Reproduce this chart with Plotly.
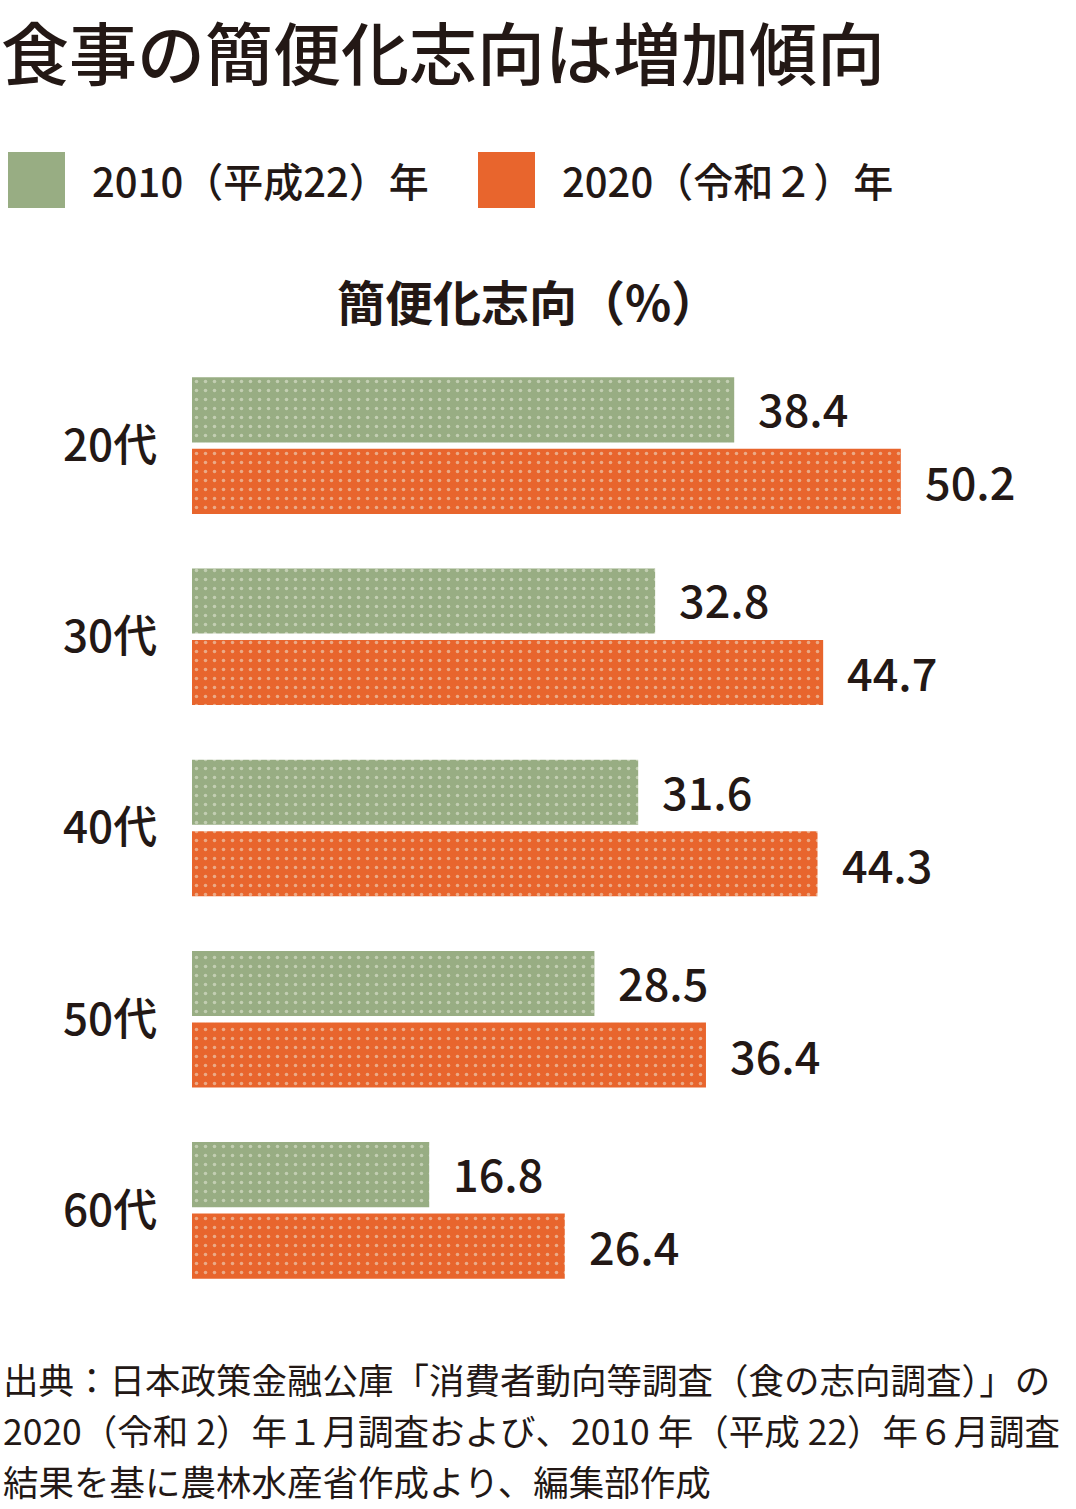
import plotly.graph_objects as go

# ---- data ----
categories = ["20代", "30代", "40代", "50代", "60代"]
values_2010 = [38.4, 32.8, 31.6, 28.5, 16.8]
values_2020 = [50.2, 44.7, 44.3, 36.4, 26.4]
series_names = ["2010（平成22）年", "2020（令和２）年"]
title_text = "食事の簡便化志向は増加傾向"
axis_title = "簡便化志向（%）"
source_lines = [
    "出典：日本政策金融公庫「消費者動向等調査（食の志向調査）」の",
    "2020（令和 2）年１月調査および、2010 年（平成 22）年６月調査",
    "結果を基に農林水産省作成より、編集部作成",
]

# ---- styling ----
W, H = 1076, 1509
ML, MR, MT, MB = 192, 0, 350, 203
PW, PH = W - ML - MR, H - MT - MB
GREEN = "#98ad83"
ORANGE = "#e8652d"
INK = "#231815"
FONT = "Noto Sans CJK JP"


def px_x(px):
    return (px - ML) / PW


def px_y(py):
    return (H - MB - py) / PH


fig = go.Figure()
for name, vals, col in [(series_names[0], values_2010, GREEN), (series_names[1], values_2020, ORANGE)]:
    fig.add_trace(go.Bar(
        y=categories, x=vals, name=name, orientation="h",
        marker=dict(color=col, line=dict(width=0),
                    pattern=dict(shape=".", fgcolor="#eef0e2", size=9, solidity=0.12, fillmode="overlay")),
        showlegend=False, hoverinfo="skip",
    ))

annotations = []
# title (top-anchored so that it stays inside the page)
annotations.append(dict(x=px_x(0), y=px_y(0), xref="paper", yref="paper", text=title_text,
                        showarrow=False, xanchor="left", yanchor="top", borderpad=0,
                        font=dict(family=FONT, size=68, color=INK, weight=500)))

# value labels
for vals, shift in [(values_2010, 38), (values_2020, -35)]:
    for c, v in zip(categories, vals):
        annotations.append(dict(
            x=v, y=c, xref="x", yref="y", text=f"{v:.1f}", showarrow=False,
            xanchor="left", yanchor="middle", xshift=22, yshift=shift,
            font=dict(family=FONT, size=45, color=INK, weight=500),
        ))

# legend
shapes = []
for (x0, x1), col, name, tx in [((8, 65), GREEN, series_names[0], 90), ((478, 535), ORANGE, series_names[1], 560)]:
    shapes.append(dict(type="rect", xref="paper", yref="paper",
                       x0=px_x(x0), x1=px_x(x1), y0=px_y(208), y1=px_y(152),
                       fillcolor=col, line=dict(width=0)))
    annotations.append(dict(x=px_x(tx), y=px_y(180), xref="paper", yref="paper", text=name,
                            showarrow=False, xanchor="left", yanchor="middle",
                            font=dict(family=FONT, size=40, color=INK, weight=500)))

# axis title
annotations.append(dict(x=px_x(528), y=px_y(300), xref="paper", yref="paper", text=axis_title,
                        showarrow=False, xanchor="center", yanchor="middle",
                        font=dict(family=FONT, size=48, color=INK, weight=700)))

# source (bottom-anchored so that the last line stays inside the page)
n = len(source_lines)
for i, line in enumerate(source_lines):
    annotations.append(dict(x=px_x(1), y=px_y(H - 1 - 51 * (n - 1 - i)), xref="paper", yref="paper",
                            text=line, showarrow=False, xanchor="left", yanchor="bottom",
                            font=dict(family=FONT, size=35.5, color=INK)))

fig.update_layout(
    width=W, height=H,
    margin=dict(l=ML, r=MR, t=MT, b=MB, pad=0),
    paper_bgcolor="white", plot_bgcolor="white",
    barmode="group", bargap=0.252, bargroupgap=0.09,
    xaxis=dict(range=[0, PW / 14.12], visible=False, showgrid=False, zeroline=False),
    yaxis=dict(type="category", categoryorder="array", categoryarray=categories,
               range=[len(categories) - 0.5, -0.5], showgrid=False, zeroline=False, showline=False,
               ticks="outside", ticklen=25, tickcolor="rgba(0,0,0,0)",
               tickfont=dict(family=FONT, size=44, color=INK, weight=500)),
    annotations=annotations, shapes=shapes,
)

fig.write_html("out.html")
